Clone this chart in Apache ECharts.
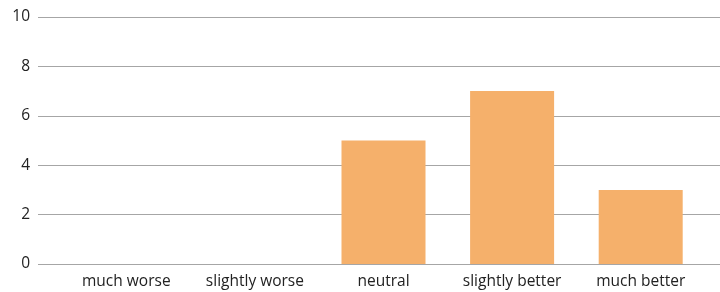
<!DOCTYPE html>
<html>
<head>
<meta charset="utf-8">
<script src="https://cdn.jsdelivr.net/npm/echarts@6/dist/echarts.min.js"></script>
<style>
  html, body { margin: 0; padding: 0; background: #fff; }
  #chart { width: 720px; height: 292px; }
</style>
</head>
<body>
<div id="chart"></div>
<script>
  const categories = ['much worse', 'slightly worse', 'neutral', 'slightly better', 'much better'];
  const counts = [0, 0, 5, 7, 3];
  const yTicks = [0, 2, 4, 6, 8, 10];

  let myChart = echarts.init(document.getElementById('chart'));
  const fontFamily = 'Open Sans, Liberation Sans, sans-serif';
  const option = {
    animation: false,
    grid: [
      // bars
      { left: 62, right: 15, top: 17, bottom: 28 },
      // gridlines + y labels (wider than the categories, like the original)
      { left: 38, right: 0, top: 17, bottom: 28 }
    ],
    xAxis: [
      {
        type: 'category',
        gridIndex: 0,
        data: categories,
        axisLine: { show: false },
        axisTick: { show: false },
        axisLabel: { color: '#222', fontSize: 15.5, fontFamily: fontFamily, margin: 10, interval: 0 }
      },
      {
        type: 'value',
        gridIndex: 1,
        show: false
      }
    ],
    yAxis: [
      {
        type: 'value',
        gridIndex: 0,
        min: 0, max: 10, interval: 2,
        show: false
      },
      {
        type: 'value',
        gridIndex: 1,
        min: yTicks[0], max: yTicks[yTicks.length - 1], interval: 2,
        axisLine: { show: false },
        axisTick: { show: false },
        axisLabel: { color: '#222', fontSize: 15.5, fontFamily: fontFamily, margin: 8 },
        splitLine: { lineStyle: { color: '#a6a6a6', width: 1 } }
      }
    ],
    series: [
      {
        name: 'count',
        type: 'bar',
        xAxisIndex: 0,
        yAxisIndex: 0,
        barWidth: 84,
        itemStyle: { color: '#f5b06b' },
        data: counts
      }
    ]
  };
  myChart.setOption(option);
</script>
</body>
</html>
